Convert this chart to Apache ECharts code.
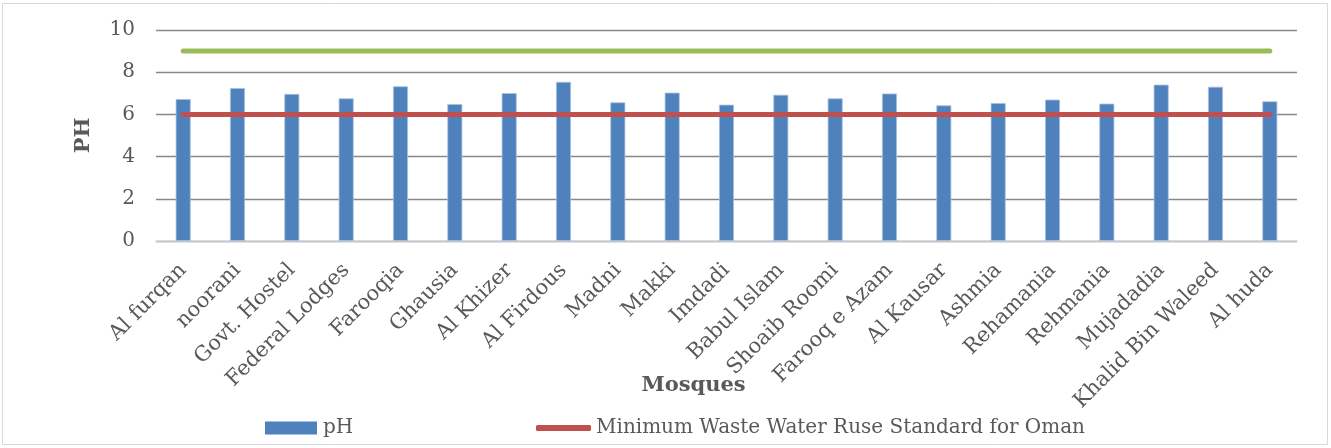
<!DOCTYPE html>
<html>
<head>
<meta charset="utf-8">
<script src="https://cdn.jsdelivr.net/npm/echarts@6/dist/echarts.min.js"></script>
<style>
  html, body { margin: 0; padding: 0; background: #fff; }
  #chart { width: 1331px; height: 448px; }
</style>
</head>
<body>
<div id="chart"></div>
<script>
// Mosque names along the category axis
const mosques = [
  'Al furqan', 'noorani', 'Govt. Hostel', 'Federal Lodges', 'Farooqia',
  'Ghausia', 'Al Khizer', 'Al Firdous', 'Madni', 'Makki', 'Imdadi',
  'Babul Islam', 'Shoaib Roomi', 'Farooq e Azam', 'Al Kausar', 'Ashmia',
  'Rehamania', 'Rehmania', 'Mujadadia', 'Khalid Bin Waleed', 'Al huda'
];

// Measured pH of waste water at each mosque
const phValues = [
  6.73, 7.25, 6.97, 6.76, 7.33, 6.49, 7.01, 7.54, 6.57, 7.03, 6.46,
  6.93, 6.76, 6.99, 6.43, 6.54, 6.70, 6.51, 7.41, 7.31, 6.62
];

// Oman waste water reuse limits, one value per mosque
const minStandard = [6, 6, 6, 6, 6, 6, 6, 6, 6, 6, 6, 6, 6, 6, 6, 6, 6, 6, 6, 6, 6];
const maxStandard = [9, 9, 9, 9, 9, 9, 9, 9, 9, 9, 9, 9, 9, 9, 9, 9, 9, 9, 9, 9, 9];

// Value axis ticks
const yTicks = [0, 2, 4, 6, 8, 10];

const FONT = '"DejaVu Serif", "Liberation Serif", serif';
const TEXT = '#595959';
const MIN_NAME = 'Minimum Waste Water Ruse Standard for Oman';
const MAX_NAME = 'Maximum Waste Water Ruse Standard for Oman';

const chart = echarts.init(document.getElementById('chart'), null, { renderer: 'canvas' });

chart.setOption({
  animation: false,
  backgroundColor: '#fff',
  textStyle: { fontFamily: FONT, color: TEXT },
  graphic: [{
    type: 'rect',
    shape: { x: 2.5, y: 3.5, width: 1325, height: 441 },
    style: { fill: 'none', stroke: '#d9d9d9', lineWidth: 1 },
    silent: true,
    z: -1
  }],
  grid: { left: 156, right: 34, top: 30, bottom: 207, containLabel: false },
  legend: [{
    data: ['pH'],
    left: 265, top: 418, padding: 0,
    itemWidth: 52, itemHeight: 13, icon: 'rect',
    itemStyle: { borderWidth: 0 },
    textStyle: { fontFamily: FONT, fontSize: 20, color: TEXT, padding: [0, 0, 0, 1] }
  }, {
    data: [MIN_NAME],
    left: 536, top: 418, padding: 0,
    itemWidth: 55, itemHeight: 6, icon: 'roundRect',
    textStyle: { fontFamily: FONT, fontSize: 20, color: TEXT }
  }],
  xAxis: {
    type: 'category',
    data: mosques,
    boundaryGap: true,
    name: 'Mosques',
    nameLocation: 'middle',
    nameGap: 134,
    nameMoveOverlap: false,
    nameTextStyle: {
      fontFamily: FONT, fontSize: 21, fontWeight: 'bold', color: TEXT,
      padding: [0, 66, 0, 0]
    },
    axisLine: { show: true, lineStyle: { color: '#d9d9d9', width: 1.5 } },
    axisTick: { show: false },
    axisLabel: {
      rotate: 45, interval: 0, margin: 26,
      fontFamily: FONT, fontSize: 21, color: TEXT
    }
  },
  yAxis: {
    type: 'value',
    min: yTicks[0], max: yTicks[yTicks.length - 1], interval: 2,
    name: 'PH',
    nameLocation: 'middle',
    nameGap: 62,
    nameRotate: 90,
    nameMoveOverlap: false,
    nameTextStyle: { fontFamily: FONT, fontSize: 21, fontWeight: 'bold', color: TEXT },
    axisLine: { show: false },
    axisTick: { show: false },
    axisLabel: { margin: 21, fontFamily: FONT, fontSize: 20, color: TEXT },
    splitLine: { lineStyle: { color: '#888888', width: 1.3 } }
  },
  series: [{
    name: 'pH',
    type: 'bar',
    data: phValues,
    barWidth: 15,
    itemStyle: { color: '#4f81bd', borderColor: '#a9c1df', borderWidth: 0.8 },
    z: 2
  }, {
    name: MIN_NAME,
    type: 'line',
    data: minStandard,
    showSymbol: false, symbol: 'none',
    lineStyle: { color: '#c0504d', width: 5, cap: 'round' },
    itemStyle: { color: '#c0504d' },
    z: 3
  }, {
    name: MAX_NAME,
    type: 'line',
    data: maxStandard,
    showSymbol: false, symbol: 'none',
    lineStyle: { color: '#9bbb59', width: 5, cap: 'round' },
    itemStyle: { color: '#9bbb59' },
    z: 3
  }]
});
</script>
</body>
</html>
